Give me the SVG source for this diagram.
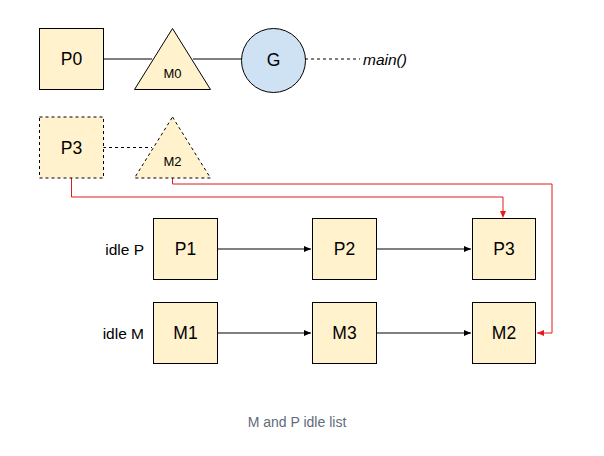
<svg xmlns="http://www.w3.org/2000/svg" width="604" height="456" viewBox="0 0 604 456">
<style>
.n{fill:#fff2cc;stroke:#000;stroke-width:1}
.d{stroke-dasharray:3,3}
.t{font-family:"Liberation Sans",Arial,sans-serif;fill:#000;text-anchor:middle;dominant-baseline:central}
.big{font-size:17.5px}
.sm{font-size:13px}
.lbl{font-family:"Liberation Sans",Arial,sans-serif;font-size:15.5px;fill:#000;dominant-baseline:central}
.c{fill:none;stroke:#000;stroke-width:1}
.r{fill:none;stroke:#e31a1c;stroke-width:1}
</style>
<defs>
<marker id="ab" markerWidth="8" markerHeight="6" refX="7" refY="3" orient="auto" markerUnits="userSpaceOnUse"><path d="M0,0 L7,3 L0,6 Z" fill="#000"/></marker>
<marker id="ar" markerWidth="8" markerHeight="6" refX="7" refY="3" orient="auto" markerUnits="userSpaceOnUse"><path d="M0,0 L7,3 L0,6 Z" fill="#e31a1c"/></marker>
</defs>
<rect width="604" height="456" fill="#fff"/>
<g id="connectors">
<line class="c" x1="103" y1="59" x2="152" y2="59"/>
<line class="c" x1="193" y1="59" x2="242" y2="59"/>
<line class="c d" x1="305" y1="59" x2="360" y2="59"/>
<line class="c d" x1="103" y1="147.5" x2="152" y2="147.5"/>
<polyline class="r" points="71.5,178 71.5,197 503,197 503,212"/>
<polyline class="r" points="172.5,178 172.5,184 552,184 552,333 537,333" marker-end="url(#ar)"/>
<line class="c" x1="217" y1="249" x2="311" y2="249" marker-end="url(#ab)"/>
<line class="c" x1="376" y1="249" x2="471" y2="249" marker-end="url(#ab)"/>
<line class="c" x1="217" y1="333" x2="311" y2="333" marker-end="url(#ab)"/>
<line class="c" x1="376" y1="333" x2="471" y2="333" marker-end="url(#ab)"/>
<path d="M503,218 l-3,-7 l6,0 Z" fill="#e31a1c"/>
</g>
<g id="P0"><rect class="n" x="39.5" y="28.5" width="64" height="61"/><text class="t big" x="71.5" y="59">P0</text></g>
<g id="M0"><polygon class="n" points="172.5,28.5 210.5,89.5 134.5,89.5"/><text class="t sm" x="172.5" y="73">M0</text></g>
<g id="G"><circle cx="273.5" cy="60.5" r="32" fill="#cfe2f3" stroke="#000"/><text class="t big" x="273.5" y="60">G</text></g>
<g id="main"><text class="lbl" x="363" y="59" font-style="italic">main()</text></g>
<g id="P3dash"><rect class="n d" x="39.5" y="117" width="64" height="61"/><text class="t big" x="71.5" y="147.5">P3</text></g>
<g id="M2dash"><polygon class="n d" points="172.5,117 210.5,178 134.5,178"/><text class="t sm" x="172.5" y="161">M2</text></g>
<g id="idleP"><text class="lbl" x="144" y="249" text-anchor="end">idle P</text></g>
<g id="idleM"><text class="lbl" x="144" y="333" text-anchor="end">idle M</text></g>
<g id="P1"><rect class="n" x="153.5" y="218.5" width="64" height="61"/><text class="t big" x="185.5" y="249">P1</text></g>
<g id="P2"><rect class="n" x="312.5" y="218.5" width="64" height="61"/><text class="t big" x="344.5" y="249">P2</text></g>
<g id="P3"><rect class="n" x="472.5" y="218.5" width="63" height="61"/><text class="t big" x="504" y="249">P3</text></g>
<g id="M1"><rect class="n" x="153.5" y="302.5" width="64" height="61"/><text class="t big" x="185.5" y="333">M1</text></g>
<g id="M3"><rect class="n" x="312.5" y="302.5" width="64" height="61"/><text class="t big" x="344.5" y="333">M3</text></g>
<g id="M2"><rect class="n" x="472.5" y="302.5" width="63" height="61"/><text class="t big" x="504" y="333">M2</text></g>
<g id="caption"><text x="297" y="422" font-family="Liberation Sans,Arial,sans-serif" font-size="14px" fill="#5f6b7a" text-anchor="middle" dominant-baseline="central">M and P idle list</text></g>
</svg>
